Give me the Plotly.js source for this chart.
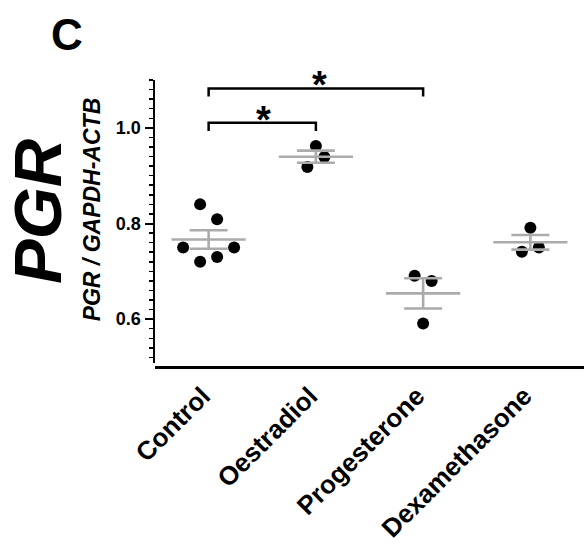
<!DOCTYPE html>
<html><head><meta charset="utf-8">
<script src="https://cdn.plot.ly/plotly-3.0.1.min.js"></script>
<style>html,body{margin:0;padding:0;background:#fff}</style>
</head><body><div id="chart" style="width:584px;height:551px"></div>
<script>
// ---- data ----
const groups = ['Control', 'Oestradiol', 'Progesterone', 'Dexamethasone'];
const control = [0.750, 0.720, 0.730, 0.750, 0.840, 0.809];
const oestradiol = [0.918, 0.939, 0.962];
const progesterone = [0.691, 0.680, 0.591];
const dexamethasone = [0.741, 0.750, 0.791];
const sigPairs = [[0, 1], [0, 2]];
const sigLevels = [1.0105, 1.0824];
const sigLabels = ['*', '*'];
const yTicks = [0.6, 0.8, 1.0];

const values = [control, oestradiol, progesterone, dexamethasone];
const FONT = '"Liberation Sans", Arial, Helvetica, sans-serif';
const GRAY = '#ababab';

function mean(a) { return a.reduce((s, v) => s + v, 0) / a.length; }
function sem(a) {
  const m = mean(a);
  const v = a.reduce((s, x) => s + (x - m) * (x - m), 0) / (a.length - 1);
  return Math.sqrt(v) / Math.sqrt(a.length);
}
// simple row-binned swarm layout (centered rows)
function swarm(vals, rowH, step) {
  const idx = vals.map((v, i) => i).sort((a, b) => vals[a] - vals[b]);
  const rows = []; let cur = null;
  idx.forEach(i => {
    if (!cur || vals[i] - cur.start > rowH) { cur = { start: vals[i], m: [] }; rows.push(cur); }
    cur.m.push(i);
  });
  const off = new Array(vals.length).fill(0);
  rows.forEach(r => {
    r.m.sort((a, b) => a - b);
    const n = r.m.length;
    r.m.forEach((i, k) => { off[i] = (k - (n - 1) / 2) * step; });
  });
  return off;
}

const px = [], py = [];
values.forEach((vals, g) => {
  const off = swarm(vals, 0.035, 0.1585);
  vals.forEach((v, i) => { px.push(g + off[i]); py.push(v); });
});

const traces = [];
traces.push({
  type: 'scatter', mode: 'markers', x: px, y: py, cliponaxis: false,
  marker: { size: 12, color: '#000', line: { width: 0 } }, hoverinfo: 'y'
});
traces.push({
  type: 'scatter', mode: 'markers', x: groups.map((g, i) => i), y: values.map(mean),
  cliponaxis: false,
  marker: { symbol: 'line-ew', size: 53, color: GRAY, line: { color: GRAY, width: 2.6 } },
  error_y: { type: 'data', array: values.map(sem), visible: true, color: GRAY, thickness: 2.6, width: 19 },
  hoverinfo: 'y'
});
const drop = 0.017;
sigPairs.forEach((p, k) => {
  const L = sigLevels[k];
  traces.push({
    type: 'scatter', mode: 'lines', x: [p[0], p[0], p[1], p[1]], y: [L - drop, L, L, L - drop],
    cliponaxis: false, line: { color: '#000', width: 2.5 }, hoverinfo: 'skip'
  });
});

const annotations = [];
sigPairs.forEach((p, k) => {
  annotations.push({
    x: (p[0] + p[1]) / 2, y: sigLevels[k], xref: 'x', yref: 'y', text: sigLabels[k],
    showarrow: false, yanchor: 'bottom', yshift: -20, xshift: k === 1 ? 4 : 1,
    font: { family: FONT, size: 38, color: '#000', weight: 'bold' }
  });
});
annotations.push({
  x: -0.205, y: 1.157, xref: 'paper', yref: 'paper', text: 'C', showarrow: false,
  xanchor: 'center', yanchor: 'middle',
  font: { family: FONT, size: 44, color: '#000', weight: 'bold' }
});
annotations.push({
  x: -0.275, y: 0.54, xref: 'paper', yref: 'paper', text: 'PGR', showarrow: false,
  textangle: -90, xanchor: 'center', yanchor: 'middle',
  font: { family: FONT, size: 67, color: '#000', weight: 'bold', style: 'italic' }
});
annotations.push({
  x: -0.147, y: 0.549, xref: 'paper', yref: 'paper', text: 'PGR / GAPDH-ACTB', showarrow: false,
  textangle: -90, xanchor: 'center', yanchor: 'middle',
  font: { family: FONT, size: 23, color: '#000', weight: 'bold', style: 'italic' }
});

const layout = {
  width: 584, height: 551,
  margin: { l: 155, r: 0, t: 80, b: 184 },
  paper_bgcolor: '#fff', plot_bgcolor: '#fff',
  showlegend: false,
  font: { family: FONT, color: '#000' },
  xaxis: {
    range: [-0.5, 3.5], tickvals: groups.map((g, i) => i), ticktext: groups,
    tickangle: -45, ticks: '', showgrid: false, zeroline: false,
    showline: true, linecolor: '#000', linewidth: 2.5,
    anchor: 'free', position: 0, ticklabelstandoff: 2, ticklabelshift: -6,
    tickfont: { family: FONT, size: 26, color: '#000', weight: 'bold' }
  },
  yaxis: {
    domain: [0.015, 1], range: [0.509, 1.1],
    tickvals: yTicks, tickformat: '.1f',
    ticks: 'outside', ticklen: 8, tickwidth: 2, tickcolor: '#000',
    minor: { dtick: 0.02, tick0: 0, ticks: 'outside', ticklen: 4, tickwidth: 1.5, tickcolor: '#000', showgrid: false },
    showgrid: false, zeroline: false,
    showline: true, linecolor: '#000', linewidth: 2.5,
    tickfont: { family: FONT, size: 18, color: '#000', weight: 'bold' }
  },
  annotations: annotations
};

Plotly.newPlot('chart', traces, layout, { displayModeBar: false, staticPlot: true });
</script>
</body></html>
